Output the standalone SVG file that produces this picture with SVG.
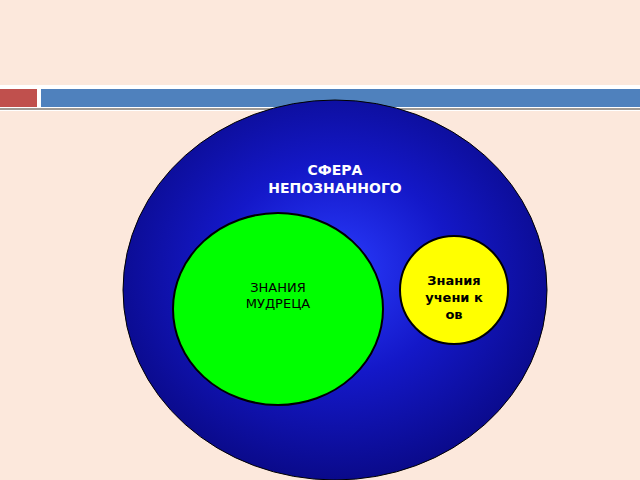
<svg xmlns="http://www.w3.org/2000/svg" width="640" height="480" viewBox="0 0 640 480">
<defs>
<radialGradient id="bg" cx="0.5" cy="0.45" r="0.55">
<stop offset="0" stop-color="#2a3cff"/>
<stop offset="0.5" stop-color="#1418c8"/>
<stop offset="1" stop-color="#0a0a8a"/>
</radialGradient>
</defs>
<style>
text{font-family:"DejaVu Sans","Liberation Sans",sans-serif;font-weight:bold;text-anchor:middle}
.w{fill:#fff;font-size:14px}
.k{fill:#000;font-size:13px}
</style>
<rect width="640" height="480" fill="#fce8dc"/>
<g id="header">
<rect x="0" y="85" width="640" height="26" fill="#fff"/>
<rect x="0" y="89" width="37" height="18" fill="#c0504d"/>
<rect x="41" y="89" width="599" height="18" fill="#4f81bd"/>
<rect x="0" y="108" width="640" height="2" fill="#a09a94"/>
</g>
<g id="sphere">
<ellipse cx="335" cy="290" rx="212" ry="190" fill="url(#bg)" stroke="#000" stroke-width="1"/>
<text class="w" x="335" y="175">СФЕРА</text>
<text class="w" x="335" y="193">НЕПОЗНАННОГО</text>
</g>
<g id="sage">
<ellipse cx="278" cy="309" rx="105" ry="96" fill="#00ff00" stroke="#000" stroke-width="2"/>
<text class="k" x="278" y="292" font-weight="normal" style="font-weight:normal">ЗНАНИЯ</text>
<text class="k" x="278" y="308" style="font-weight:normal">МУДРЕЦА</text>
</g>
<g id="students">
<ellipse cx="454" cy="290" rx="54" ry="54" fill="#ffff00" stroke="#000" stroke-width="2"/>
<text class="k" x="454" y="285">Знания</text>
<text class="k" x="454" y="302">учени к</text>
<text class="k" x="454" y="319">ов</text>
</g>
<g id="connectors"/>
</svg>
